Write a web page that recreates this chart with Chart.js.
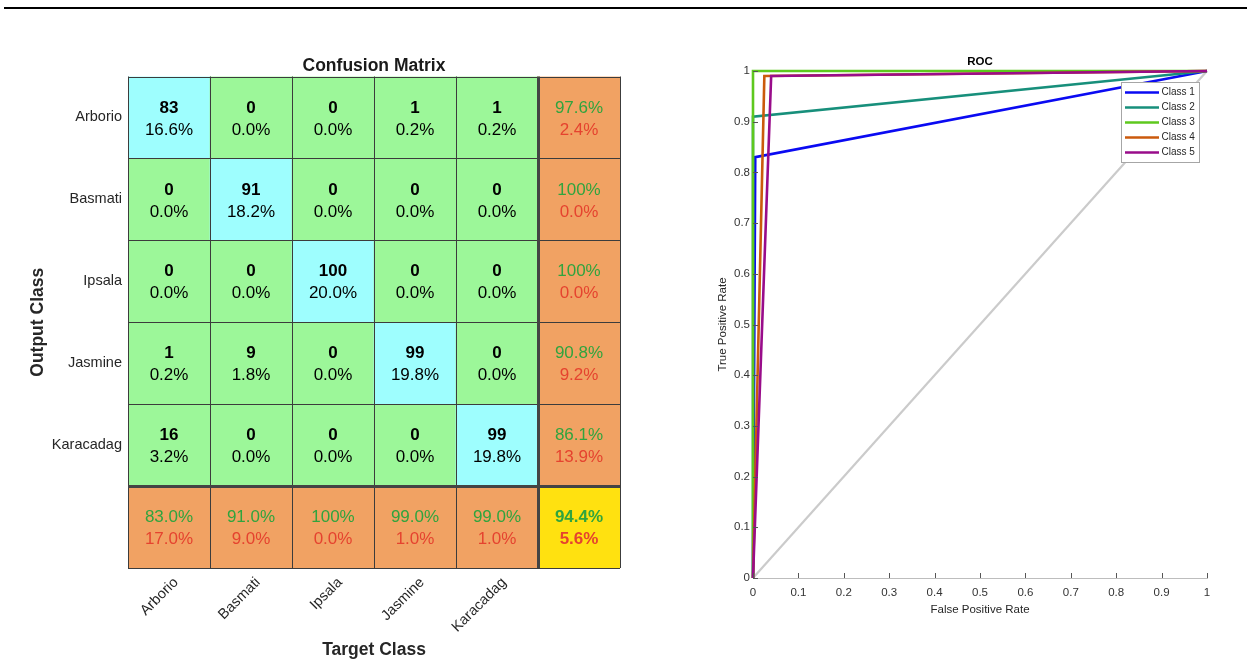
<!DOCTYPE html>
<html>
<head>
<meta charset="utf-8">
<script src="https://cdn.jsdelivr.net/npm/chart.js@4.4.1/dist/chart.umd.min.js"></script>
<style>
html,body{margin:0;padding:0;background:#fff;width:1247px;height:662px;overflow:hidden;}
#rule{position:absolute;left:4px;top:7px;width:1243px;height:2px;background:#000;}
#c1{position:absolute;left:0;top:0;}
#c2{position:absolute;left:640px;top:0;}
</style>
</head>
<body>
<div id="rule"></div>
<canvas id="c1" width="640" height="662"></canvas>
<canvas id="c2" width="607" height="662"></canvas>
<script>
// ---------------- DATA ----------------
const classes = ['Arborio', 'Basmati', 'Ipsala', 'Jasmine', 'Karacadag'];
const counts = [
  [83, 0, 0, 1, 1],
  [0, 91, 0, 0, 0],
  [0, 0, 100, 0, 0],
  [1, 9, 0, 99, 0],
  [16, 0, 0, 0, 99]
];
const cellPercents = [
  [16.6, 0.0, 0.0, 0.2, 0.2],
  [0.0, 18.2, 0.0, 0.0, 0.0],
  [0.0, 0.0, 20.0, 0.0, 0.0],
  [0.2, 1.8, 0.0, 19.8, 0.0],
  [3.2, 0.0, 0.0, 0.0, 19.8]
];
const rowCorrect = ['97.6%', '100%', '100%', '90.8%', '86.1%'];
const rowWrong = ['2.4%', '0.0%', '0.0%', '9.2%', '13.9%'];
const colCorrect = ['83.0%', '91.0%', '100%', '99.0%', '99.0%'];
const colWrong = ['17.0%', '9.0%', '0.0%', '1.0%', '1.0%'];
const overallCorrect = '94.4%';
const overallWrong = '5.6%';

const rocLabels = ['Class 1', 'Class 2', 'Class 3', 'Class 4', 'Class 5'];
const rocFPR = [[0, 0.005, 1], [0, 0, 1], [0, 0, 1], [0, 0.025, 1], [0, 0.04, 1]];
const rocTPR = [[0, 0.83, 1], [0, 0.91, 1], [0, 1, 1], [0, 0.99, 1], [0, 0.99, 1]];
const chanceFPR = [0, 1];
const chanceTPR = [0, 1];
const rocTickLabels = ['0', '0.1', '0.2', '0.3', '0.4', '0.5', '0.6', '0.7', '0.8', '0.9', '1'];

// ---------------- STYLE ----------------
const FONT = '"Liberation Sans", Arial, Helvetica, sans-serif';
Chart.defaults.font.family = FONT;
Chart.defaults.color = '#262626';
const CYAN = '#9EFEFE', GREEN = '#9CF799', ORANGE = '#F1A263', YELLOW = '#FFE110';
const TXT_GREEN = '#30A43E', TXT_RED = '#E5432F';
const rocColors = ['#0A0AF2', '#178F7B', '#5EC81E', '#CB5A0C', '#990C8A'];

// ---------------- CONFUSION MATRIX ----------------
const colNames = classes.concat(['']);
function cellColor(r, c) {
  if (r === 5 && c === 5) return YELLOW;
  if (r === 5 || c === 5) return ORANGE;
  return r === c ? CYAN : GREEN;
}
const matrixDatasets = colNames.map((_, r) => ({
  label: r < 5 ? classes[r] : 'summary',
  data: colNames.map(() => 1),
  backgroundColor: colNames.map((_, c) => cellColor(r, c)),
  borderWidth: 0,
  stack: 'm',
  barPercentage: 1,
  categoryPercentage: 1
}));

const matrixPlugin = {
  id: 'matrixPlugin',
  afterDatasetsDraw(chart) {
    const ctx = chart.ctx;
    const metas = chart.data.datasets.map((_, r) => chart.getDatasetMeta(r));
    const first = metas[0].data;
    const xs = first.map(el => el.x - el.width / 2);
    xs.push(first[first.length - 1].x + first[first.length - 1].width / 2);
    const ys = metas.map(m => Math.min(m.data[0].y, m.data[0].base));
    const lastEl = metas[metas.length - 1].data[0];
    ys.push(Math.max(lastEl.y, lastEl.base));
    ctx.save();
    ctx.strokeStyle = '#3c3c3c';
    ctx.lineWidth = 1;
    const top = ys[0], bottom = ys[ys.length - 1], left = xs[0], right = xs[xs.length - 1];
    xs.forEach((x, i) => {
      if (i === 5) return;
      const px = Math.round(x) + 0.5;
      ctx.beginPath(); ctx.moveTo(px, top); ctx.lineTo(px, bottom); ctx.stroke();
    });
    ys.forEach((y, i) => {
      if (i === 5) return;
      const py = Math.round(y) + 0.5;
      ctx.beginPath(); ctx.moveTo(left, py); ctx.lineTo(right, py); ctx.stroke();
    });
    ctx.strokeStyle = '#444444';
    ctx.lineWidth = 3;
    let px = Math.round(xs[5]) + 0.5;
    ctx.beginPath(); ctx.moveTo(px, top); ctx.lineTo(px, bottom); ctx.stroke();
    let py = Math.round(ys[5]) + 0.5;
    ctx.beginPath(); ctx.moveTo(left, py); ctx.lineTo(right, py); ctx.stroke();

    ctx.textAlign = 'center';
    ctx.textBaseline = 'middle';
    metas.forEach((m, r) => {
      m.data.forEach((el, c) => {
        const cx = el.x;
        const cy = (el.y + el.base) / 2;
        let t1, t2, c1, c2, b1 = false, b2 = false;
        if (r < 5 && c < 5) {
          t1 = String(counts[r][c]); t2 = cellPercents[r][c].toFixed(1) + '%';
          c1 = '#000'; c2 = '#000'; b1 = true;
        } else if (r < 5) {
          t1 = rowCorrect[r]; t2 = rowWrong[r]; c1 = TXT_GREEN; c2 = TXT_RED;
        } else if (c < 5) {
          t1 = colCorrect[c]; t2 = colWrong[c]; c1 = TXT_GREEN; c2 = TXT_RED;
        } else {
          t1 = overallCorrect; t2 = overallWrong; c1 = TXT_GREEN; c2 = TXT_RED; b1 = true; b2 = true;
        }
        ctx.font = (b1 ? 'bold ' : '') + '17px ' + FONT;
        ctx.fillStyle = c1;
        ctx.fillText(t1, cx, cy - 9.5);
        ctx.font = (b2 ? 'bold ' : '') + '17px ' + FONT;
        ctx.fillStyle = c2;
        ctx.fillText(t2, cx, cy + 12.5);
      });
    });
    ctx.restore();
  }
};

new Chart(document.getElementById('c1'), {
  type: 'bar',
  data: { labels: colNames, datasets: matrixDatasets },
  options: {
    responsive: false,
    animation: false,
    layout: { padding: { left: 0, right: 20, top: 0, bottom: 0 } },
    plugins: {
      legend: { display: false },
      tooltip: { enabled: false },
      title: {
        display: true, text: 'Confusion Matrix', fullSize: false,
        font: { size: 17.5, weight: 'bold' }, color: '#1a1a1a',
        padding: { top: 55.5, bottom: 0 }
      }
    },
    scales: {
      x: {
        type: 'category', stacked: true, offset: true,
        grid: { display: false, drawTicks: false }, border: { display: false },
        ticks: { font: { size: 14.5 }, color: '#262626', minRotation: 45, maxRotation: 45, autoSkip: false, padding: 6, labelOffset: 7 },
        title: { display: true, text: 'Target Class', font: { size: 17.5, weight: 'bold' }, color: '#262626', padding: { top: 0, bottom: 1.5 } },
        afterFit: s => { s.height = 94; }
      },
      y: {
        type: 'linear', stacked: true, min: 0, max: 6, reverse: true,
        grid: { display: false, drawTicks: false }, border: { display: false },
        afterBuildTicks: s => { s.ticks = classes.map((_, i) => ({ value: i + 0.5 })); },
        ticks: { callback: (v, i) => classes[i], font: { size: 14.5 }, color: '#262626', padding: 6 },
        title: { display: true, text: 'Output Class', font: { size: 17.5, weight: 'bold' }, color: '#262626', padding: { top: 28, bottom: 0 } },
        afterFit: s => { s.width = 128; }
      }
    }
  },
  plugins: [matrixPlugin]
});

// ---------------- ROC ----------------
const rocDatasets = [{
  label: 'chance',
  data: chanceFPR.map((x, i) => ({ x: x, y: chanceTPR[i] })),
  borderColor: '#CBCBCB', borderWidth: 2.2, pointRadius: 0, showLine: true, order: 10, clip: false
}].concat(rocLabels.map((l, k) => ({
  label: l,
  data: rocFPR[k].map((x, i) => ({ x: x, y: rocTPR[k][i] })),
  borderColor: rocColors[k], borderWidth: 2.6, pointRadius: 0, showLine: true, order: 5 - k, clip: false
})));

const rocDecor = {
  id: 'rocDecor',
  afterDatasetsDraw(chart) {
    const ctx = chart.ctx, ca = chart.chartArea;
    const xs = chart.scales.x, ys = chart.scales.y;
    ctx.save();
    ctx.strokeStyle = '#555555';
    ctx.lineWidth = 1;
    xs.ticks.forEach(t => {
      const px = Math.round(xs.getPixelForValue(t.value)) + 0.5;
      ctx.beginPath(); ctx.moveTo(px, ca.bottom); ctx.lineTo(px, ca.bottom - 5); ctx.stroke();
    });
    ys.ticks.forEach(t => {
      const py = Math.round(ys.getPixelForValue(t.value)) + 0.5;
      ctx.beginPath(); ctx.moveTo(ca.left, py); ctx.lineTo(ca.left + 5, py); ctx.stroke();
    });
    // legend
    const items = chart.data.datasets.filter(d => rocLabels.includes(d.label));
    const bw = 78, bh = 80;
    const bx = Math.round(ca.right - 8 - bw) + 0.5, by = Math.round(ca.top + 11) + 0.5;
    ctx.fillStyle = '#ffffff';
    ctx.fillRect(bx, by, bw, bh);
    ctx.strokeStyle = '#a6a6a6';
    ctx.lineWidth = 1;
    ctx.strokeRect(bx, by, bw, bh);
    ctx.font = '10px ' + FONT;
    ctx.textBaseline = 'middle';
    ctx.textAlign = 'left';
    items.forEach((d, i) => {
      const y = by + 10 + i * 15;
      ctx.strokeStyle = d.borderColor;
      ctx.lineWidth = 2.6;
      ctx.beginPath(); ctx.moveTo(bx + 3.5, y); ctx.lineTo(bx + 37.5, y); ctx.stroke();
      ctx.fillStyle = '#262626';
      ctx.fillText(d.label, bx + 40, y);
    });
    ctx.restore();
  }
};

new Chart(document.getElementById('c2'), {
  type: 'scatter',
  data: { datasets: rocDatasets },
  options: {
    responsive: false,
    animation: false,
    layout: { padding: { left: 0, right: 40, top: 0, bottom: 45 } },
    plugins: {
      legend: { display: false },
      tooltip: { enabled: false },
      title: {
        display: true, text: 'ROC', fullSize: false,
        font: { size: 11.5, weight: 'bold' }, color: '#000',
        padding: { top: 55.1, bottom: 2.1 }
      }
    },
    scales: {
      x: {
        type: 'linear', min: 0, max: 1,
        grid: { display: false, drawTicks: false },
        border: { display: true, color: '#BDBDBD', width: 1 },
        ticks: { stepSize: 0.1, autoSkip: false, maxRotation: 0, callback: (v, i) => rocTickLabels[i], font: { size: 11.5 }, color: '#333333', padding: 7.8 },
        title: { display: true, text: 'False Positive Rate', font: { size: 11.5 }, color: '#262626', padding: { top: 0, bottom: 0 } },
        afterFit: s => { s.height = 39; }
      },
      y: {
        type: 'linear', min: 0, max: 1,
        grid: { display: false, drawTicks: false },
        border: { display: true, color: '#BDBDBD', width: 1 },
        ticks: { stepSize: 0.1, autoSkip: false, callback: (v, i) => rocTickLabels[i], font: { size: 11.5 }, color: '#333333', padding: 3 },
        title: { display: true, text: 'True Positive Rate', font: { size: 11.5 }, color: '#262626', padding: { top: 76, bottom: 0 } },
        afterFit: s => { s.width = 113; }
      }
    }
  },
  plugins: [rocDecor]
});
</script>
</body>
</html>
